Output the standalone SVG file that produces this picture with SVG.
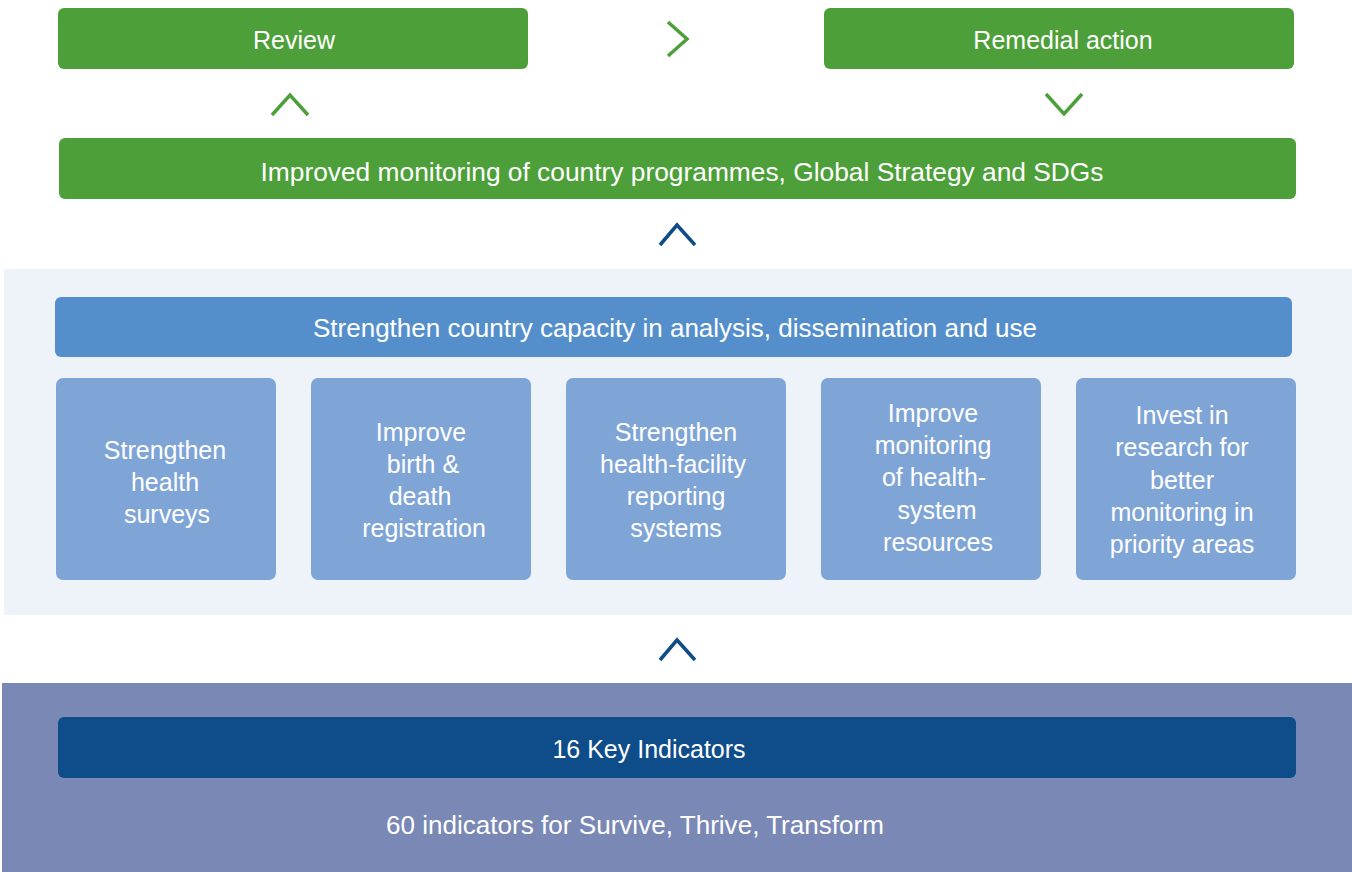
<svg xmlns="http://www.w3.org/2000/svg" width="1352" height="872" viewBox="0 0 1352 872">
<style>
.t{font-family:"Liberation Sans",Arial,sans-serif;font-size:25px;fill:#ffffff;text-anchor:middle}
.g{fill:#4d9f39}
.b{fill:#7fa5d7}
.chg{fill:none;stroke:#4d9f39;stroke-width:3.5}
.chb{fill:none;stroke:#0f4c8a;stroke-width:3.5}
</style>
<rect x="0" y="0" width="1352" height="872" fill="#ffffff"/>
<rect x="4" y="269" width="1348" height="346" fill="#eef3fa"/>
<rect x="2" y="683" width="1350" height="189" fill="#7a88b6"/>
<g id="review"><rect class="g" x="58" y="8" width="470" height="61" rx="6"/><text class="t" x="294" y="49">Review</text></g>
<g id="remedial"><rect class="g" x="824" y="8" width="470" height="61" rx="6"/><text class="t" x="1063" y="49">Remedial action</text></g>
<g id="improved"><rect class="g" x="59" y="138" width="1237" height="61" rx="6"/><text class="t" x="682" y="181" textLength="843" lengthAdjust="spacingAndGlyphs">Improved monitoring of country programmes, Global Strategy and SDGs</text></g>
<g id="capacity"><rect x="55" y="297" width="1237" height="60" rx="6" fill="#548fcc"/><text class="t" x="675" y="337" textLength="724" lengthAdjust="spacingAndGlyphs">Strengthen country capacity in analysis, dissemination and use</text></g>
<g id="surveys"><rect class="b" x="56" y="378" width="220" height="202" rx="7"/><text class="t" x="165"><tspan x="165" y="459">Strengthen</tspan><tspan x="165" y="491">health</tspan><tspan x="167" y="523">surveys</tspan></text></g>
<g id="registration"><rect class="b" x="311" y="378" width="220" height="202" rx="7"/><text class="t"><tspan x="421" y="441">Improve</tspan><tspan x="423" y="473">birth &amp;</tspan><tspan x="420" y="505">death</tspan><tspan x="424" y="537">registration</tspan></text></g>
<g id="facility"><rect class="b" x="566" y="378" width="220" height="202" rx="7"/><text class="t"><tspan x="676" y="441">Strengthen</tspan><tspan x="673" y="473">health-facility</tspan><tspan x="676" y="505">reporting</tspan><tspan x="676" y="537">systems</tspan></text></g>
<g id="resources"><rect class="b" x="821" y="378" width="220" height="202" rx="7"/><text class="t"><tspan x="933" y="422">Improve</tspan><tspan x="933" y="454">monitoring</tspan><tspan x="934" y="486">of health-</tspan><tspan x="937" y="519">system</tspan><tspan x="938" y="551">resources</tspan></text></g>
<g id="research"><rect class="b" x="1076" y="378" width="220" height="202" rx="7"/><text class="t"><tspan x="1182" y="424">Invest in</tspan><tspan x="1182" y="456">research for</tspan><tspan x="1182" y="489">better</tspan><tspan x="1182" y="521">monitoring in</tspan><tspan x="1182" y="553">priority areas</tspan></text></g>
<g id="key"><rect x="58" y="717" width="1238" height="61" rx="6" fill="#0f4c8a"/><text class="t" x="649" y="758">16 Key Indicators</text></g>
<g id="sixty"><text class="t" x="635" y="834" textLength="498" lengthAdjust="spacingAndGlyphs">60 indicators for Survive, Thrive, Transform</text></g>
<g id="connectors">
<polyline class="chg" points="668,22 687,39 668,56"/>
<polyline class="chg" points="272,115 290,95 308,115"/>
<polyline class="chg" points="1046,94 1064,114 1082,94"/>
<polyline class="chb" points="660,245 677,225 695,245"/>
<polyline class="chb" points="660,660 677,640 695,660"/>
</g>
</svg>
